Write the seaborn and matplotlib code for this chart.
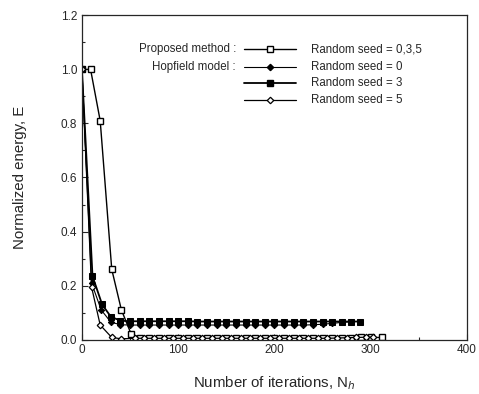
import numpy as np
import matplotlib
matplotlib.use("Agg")
import matplotlib.pyplot as plt
import seaborn as sns
from matplotlib.lines import Line2D

# Proposed method (random seed 0,3,5)
prop_x = [0, 9, 19, 31, 41, 51, 60, 70, 80, 90, 100, 110, 120, 130, 140, 150, 160,
          170, 180, 190, 200, 210, 220, 230, 240, 250, 260, 270, 280, 290, 300, 312]
prop_y = [1.0, 1.0, 0.81, 0.26, 0.11, 0.022, 0.007, 0.007, 0.007, 0.007, 0.007, 0.007,
          0.007, 0.007, 0.007, 0.007, 0.007, 0.007, 0.007, 0.007, 0.007, 0.007, 0.007,
          0.007, 0.007, 0.007, 0.007, 0.007, 0.007, 0.008, 0.008, 0.008]

# Hopfield model, seed 0
hop0_x = [0, 10, 20, 30, 40, 50, 60, 70, 80, 90, 100, 110, 120, 130, 140, 150, 160,
          170, 180, 190, 200, 210, 220, 230, 240, 250, 260, 270, 280]
hop0_y = [1.0, 0.21, 0.11, 0.065, 0.055, 0.054, 0.054, 0.054, 0.054, 0.054, 0.054, 0.054,
          0.054, 0.054, 0.054, 0.054, 0.054, 0.054, 0.054, 0.054, 0.054, 0.054, 0.054,
          0.054, 0.055, 0.057, 0.06, 0.064, 0.066]

# Hopfield model, seed 3
hop3_x = [0, 11, 21, 30, 40, 50, 60, 70, 80, 90, 100, 110, 120, 130, 140, 150, 160,
          170, 180, 190, 200, 210, 220, 230, 240, 250, 260, 270, 280, 289]
hop3_y = [1.0, 0.235, 0.13, 0.085, 0.07, 0.068, 0.068, 0.068, 0.068, 0.068, 0.068,
          0.068, 0.067, 0.067, 0.067, 0.067, 0.067, 0.067, 0.067, 0.067, 0.067, 0.067,
          0.067, 0.067, 0.067, 0.067, 0.067, 0.067, 0.067, 0.067]

# Hopfield model, seed 5
hop5_x = [0, 10, 19, 31, 41, 55, 65, 75, 85, 95, 105, 115, 125, 135, 145, 155, 165,
          175, 185, 195, 205, 215, 225, 235, 245, 255, 265, 275, 285, 295, 302]
hop5_y = [1.0, 0.195, 0.054, 0.008, 0.003, 0.005, 0.005, 0.005, 0.005, 0.005, 0.005,
          0.005, 0.005, 0.005, 0.005, 0.005, 0.005, 0.005, 0.005, 0.005, 0.005, 0.005,
          0.005, 0.005, 0.005, 0.005, 0.006, 0.007, 0.008, 0.009, 0.009]

sns.set_style("ticks")
plt.rcParams['font.family'] = ['Liberation Sans', 'DejaVu Sans']
plt.rcParams['xtick.direction'] = 'in'
plt.rcParams['ytick.direction'] = 'in'

fig = plt.figure(figsize=(4.79, 3.94), dpi=100)
ax = fig.add_axes([0.171, 0.138, 0.804, 0.823])

styles = [
    (prop_x, prop_y, dict(marker='s', markersize=4.5, markerfacecolor='white',
                          markeredgecolor='black', markeredgewidth=1.0, linewidth=1.0)),
    (hop0_x, hop0_y, dict(marker='D', markersize=3.2, markerfacecolor='black',
                          markeredgecolor='black', linewidth=0.8)),
    (hop3_x, hop3_y, dict(marker='s', markersize=4.2, markerfacecolor='black',
                          markeredgecolor='black', linewidth=1.3)),
    (hop5_x, hop5_y, dict(marker='D', markersize=3.3, markerfacecolor='white',
                          markeredgecolor='black', markeredgewidth=0.9, linewidth=0.9)),
]
for xs, ys, kw in styles:
    sns.lineplot(x=xs, y=ys, ax=ax, color='black', sort=False, **kw)

ax.set_xlim(0, 400)
ax.set_ylim(0, 1.2)
ax.set_xticks([0, 100, 200, 300, 400])
ax.set_yticks([0.0, 0.2, 0.4, 0.6, 0.8, 1.0, 1.2])
ax.set_yticklabels(['0.0', '0.2', '0.4', '0.6', '0.8', '1.0', '1.2'])
ax.set_yticks(np.arange(0.1, 1.2, 0.2), minor=True)
ax.set_xticks([50, 150, 250, 350], minor=True)
ax.tick_params(axis='both', which='major', labelsize=8.5, length=4, width=0.8,
               top=False, right=False)
ax.tick_params(axis='both', which='minor', length=2.5, width=0.8)
for s in ax.spines.values():
    s.set_linewidth(0.9)
    s.set_visible(True)

ax.set_xlabel("Number of iterations, N$_h$", fontsize=10.8, labelpad=13)
ax.set_ylabel("Normalized energy, E", fontsize=10.8, labelpad=24)

# hand-made legend like the original
rows = [0.895, 0.842, 0.79, 0.74]
left_txt = ["Proposed method :", "Hopfield model :", "", ""]
right_txt = ["Random seed = 0,3,5", "Random seed = 0", "Random seed = 3", "Random seed = 5"]
for (xs, ys, kw), yr, lt, rt in zip(styles, rows, left_txt, right_txt):
    if lt:
        ax.text(0.40, yr, lt, transform=ax.transAxes, ha='right', va='center', fontsize=8.3)
    ax.add_line(Line2D([0.42, 0.488, 0.555], [yr, yr, yr], transform=ax.transAxes,
                       color='black', markevery=[1], **kw))
    ax.text(0.595, yr, rt, transform=ax.transAxes, ha='left', va='center', fontsize=8.3)

fig.savefig("out.png", dpi=100)
